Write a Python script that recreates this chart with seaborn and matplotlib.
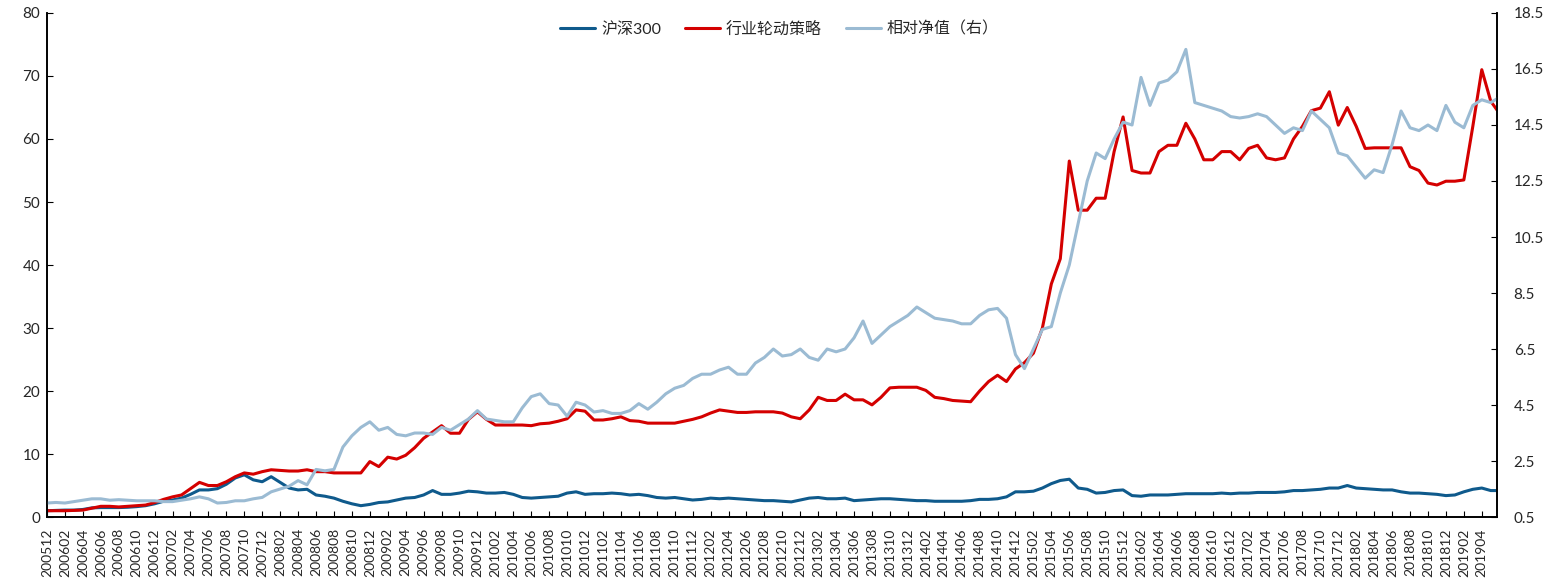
import numpy as np
import pandas as pd
import matplotlib
matplotlib.use("Agg")
import matplotlib.pyplot as plt
import seaborn as sns

# monthly values, 200512 .. 201906
hs300 = [1.0, 1.05, 1.1, 1.1, 1.2, 1.45, 1.5, 1.5, 1.5, 1.55, 1.65, 1.8, 2.1,
         2.5, 2.7, 3.0, 3.6, 4.3, 4.3, 4.5, 5.2, 6.2, 6.7, 5.9, 5.6,
         6.4, 5.5, 4.6, 4.3, 4.4, 3.5, 3.3, 3.0, 2.5, 2.1, 1.8, 2.0,
         2.3, 2.4, 2.7, 3.0, 3.1, 3.5, 4.2, 3.6, 3.6, 3.8, 4.1, 4.0,
         3.8, 3.8, 3.9, 3.6, 3.1, 3.0, 3.1, 3.2, 3.3, 3.8, 4.0, 3.6,
         3.7, 3.7, 3.8, 3.7, 3.5, 3.6, 3.4, 3.1, 3.0, 3.1, 2.9, 2.7,
         2.8, 3.0, 2.9, 3.0, 2.9, 2.8, 2.7, 2.6, 2.6, 2.5, 2.4, 2.7,
         3.0, 3.1, 2.9, 2.9, 3.0, 2.6, 2.7, 2.8, 2.9, 2.9, 2.8, 2.7,
         2.6, 2.6, 2.5, 2.5, 2.5, 2.5, 2.6, 2.8, 2.8, 2.9, 3.2, 4.0,
         4.0, 4.1, 4.6, 5.3, 5.8, 6.0, 4.6, 4.4, 3.8, 3.9, 4.2, 4.3,
         3.4, 3.3, 3.5, 3.5, 3.5, 3.6, 3.7, 3.7, 3.7, 3.7, 3.8, 3.7,
         3.8, 3.8, 3.9, 3.9, 3.9, 4.0, 4.2, 4.2, 4.3, 4.4, 4.6, 4.6,
         5.0, 4.6, 4.5, 4.4, 4.3, 4.3, 4.0, 3.8, 3.8, 3.7, 3.6, 3.4,
         3.5, 4.0, 4.4, 4.6, 4.2, 4.2]

strategy = [1.0, 1.0, 1.0, 1.05, 1.1, 1.4, 1.7, 1.7, 1.6, 1.7, 1.8, 1.9, 2.3,
            2.8, 3.2, 3.5, 4.5, 5.5, 5.0, 5.0, 5.6, 6.4, 7.0, 6.8, 7.2,
            7.5, 7.4, 7.3, 7.3, 7.5, 7.2, 7.2, 7.0, 7.0, 7.0, 7.0, 8.8,
            8.0, 9.5, 9.2, 9.8, 11.0, 12.5, 13.5, 14.5, 13.3, 13.3, 15.5, 16.7,
            15.5, 14.6, 14.6, 14.6, 14.6, 14.5, 14.8, 14.9, 15.2, 15.6, 17.0, 16.8,
            15.4, 15.4, 15.6, 15.9, 15.3, 15.2, 14.9, 14.9, 14.9, 14.9, 15.2, 15.5,
            15.9, 16.5, 17.0, 16.8, 16.6, 16.6, 16.7, 16.7, 16.7, 16.5, 15.9, 15.6,
            17.0, 19.0, 18.5, 18.5, 19.5, 18.6, 18.6, 17.8, 19.0, 20.5, 20.6, 20.6,
            20.6, 20.1, 19.0, 18.8, 18.5, 18.4, 18.3, 20.0, 21.5, 22.5, 21.5, 23.5,
            24.5, 26.0, 30.0, 37.0, 41.0, 56.5, 48.7, 48.7, 50.6, 50.6, 58.0, 63.5,
            55.0, 54.6, 54.6, 58.0, 59.0, 59.0, 62.5, 60.0, 56.7, 56.7, 58.0, 58.0,
            56.7, 58.5, 59.0, 57.0, 56.7, 57.0, 60.0, 62.0, 64.5, 64.9, 67.5, 62.2,
            65.0, 62.0, 58.5, 58.6, 58.6, 58.6, 58.6, 55.6, 55.0, 53.0, 52.7, 53.3,
            53.3, 53.5, 62.0, 71.0, 66.0, 64.0]

relative = [1.0, 1.02, 1.0, 1.05, 1.1, 1.15, 1.15, 1.1, 1.12, 1.1, 1.08, 1.08, 1.08,
            1.05, 1.05, 1.1, 1.15, 1.22, 1.15, 1.0, 1.02, 1.08, 1.08, 1.15, 1.2,
            1.4, 1.5, 1.6, 1.8, 1.65, 2.2, 2.15, 2.2, 3.0, 3.4, 3.7, 3.9,
            3.6, 3.7, 3.45, 3.4, 3.5, 3.5, 3.45, 3.7, 3.6, 3.8, 4.0, 4.3,
            4.0, 3.95, 3.9, 3.9, 4.4, 4.8, 4.9, 4.55, 4.5, 4.1, 4.6, 4.5,
            4.25, 4.3, 4.2, 4.2, 4.3, 4.55, 4.35, 4.6, 4.9, 5.1, 5.2, 5.45,
            5.6, 5.6, 5.75, 5.85, 5.6, 5.6, 6.0, 6.2, 6.5, 6.25, 6.3, 6.5,
            6.2, 6.1, 6.5, 6.4, 6.5, 6.9, 7.5, 6.7, 7.0, 7.3, 7.5, 7.7,
            8.0, 7.8, 7.6, 7.55, 7.5, 7.4, 7.4, 7.7, 7.9, 7.95, 7.6, 6.3,
            5.8, 6.5, 7.2, 7.3, 8.5, 9.5, 11.0, 12.5, 13.5, 13.3, 14.0, 14.6,
            14.5, 16.2, 15.2, 16.0, 16.1, 16.4, 17.2, 15.3, 15.2, 15.1, 15.0, 14.8,
            14.75, 14.8, 14.9, 14.8, 14.5, 14.2, 14.4, 14.3, 15.0, 14.7, 14.4, 13.5,
            13.4, 13.0, 12.6, 12.9, 12.8, 13.8, 15.0, 14.4, 14.3, 14.5, 14.3, 15.2,
            14.6, 14.4, 15.2, 15.4, 15.3, 15.5]

months = [p.strftime("%Y%m") for p in pd.period_range("2005-12", "2019-06", freq="M")]
tick_labels = months[0:161:2]

df = pd.DataFrame({"idx": np.arange(len(months)), "month": months,
                   "hs300": hs300, "strategy": strategy, "relative": relative})

sns.set_style("ticks")
plt.rcParams["font.family"] = ["Lato", "Noto Sans CJK SC", "DejaVu Sans"]

fig = plt.figure(figsize=(15.51, 5.85), dpi=100)
ax = fig.add_axes([0.0303, 0.1162, 0.9349, 0.8616])
ax2 = ax.twinx()

sns.lineplot(data=df, x="idx", y="hs300", ax=ax, color="#0F5A8C", lw=2.2, label="沪深300")
sns.lineplot(data=df, x="idx", y="strategy", ax=ax, color="#D40000", lw=2.2, label="行业轮动策略")
sns.lineplot(data=df, x="idx", y="relative", ax=ax2, color="#9BBBD3", lw=2.2, label="相对净值（右）")

ax.set_xlim(0, 161.7)
ax.set_ylim(0, 80)
ax2.set_ylim(0.5, 18.5)
ax.set_yticks(range(0, 81, 10))
ax2.set_yticks(np.arange(0.5, 18.6, 2))
ax2.set_yticklabels([f"{v:.1f}" for v in np.arange(0.5, 18.6, 2)])
ax.set_xticks(range(0, 161, 2))
ax.set_xticklabels(tick_labels, rotation=90)
ax.set_xlabel("")
ax.set_ylabel("")
ax2.set_ylabel("")

for a in (ax, ax2):
    a.spines["top"].set_visible(False)
    for s in ("left", "right", "bottom"):
        a.spines[s].set_color("black")
        a.spines[s].set_linewidth(1.2)
ax.tick_params(axis="x", direction="in", length=4, labelsize=10, pad=8, color="black")
ax.tick_params(axis="y", direction="in", length=4, labelsize=11, pad=5, color="black")
ax2.tick_params(axis="y", direction="in", length=4, labelsize=11, pad=12, color="black")

h1, l1 = ax.get_legend_handles_labels()
h2, l2 = ax2.get_legend_handles_labels()
ax.get_legend().remove()
ax2.get_legend().remove()
ax.legend(h1 + h2, l1 + l2, loc="center", bbox_to_anchor=(0.505, 0.968), ncol=3,
          frameon=False, fontsize=11.5, handlelength=2.2, columnspacing=1.5, handletextpad=0.35)

fig.savefig("out.png", dpi=100)
